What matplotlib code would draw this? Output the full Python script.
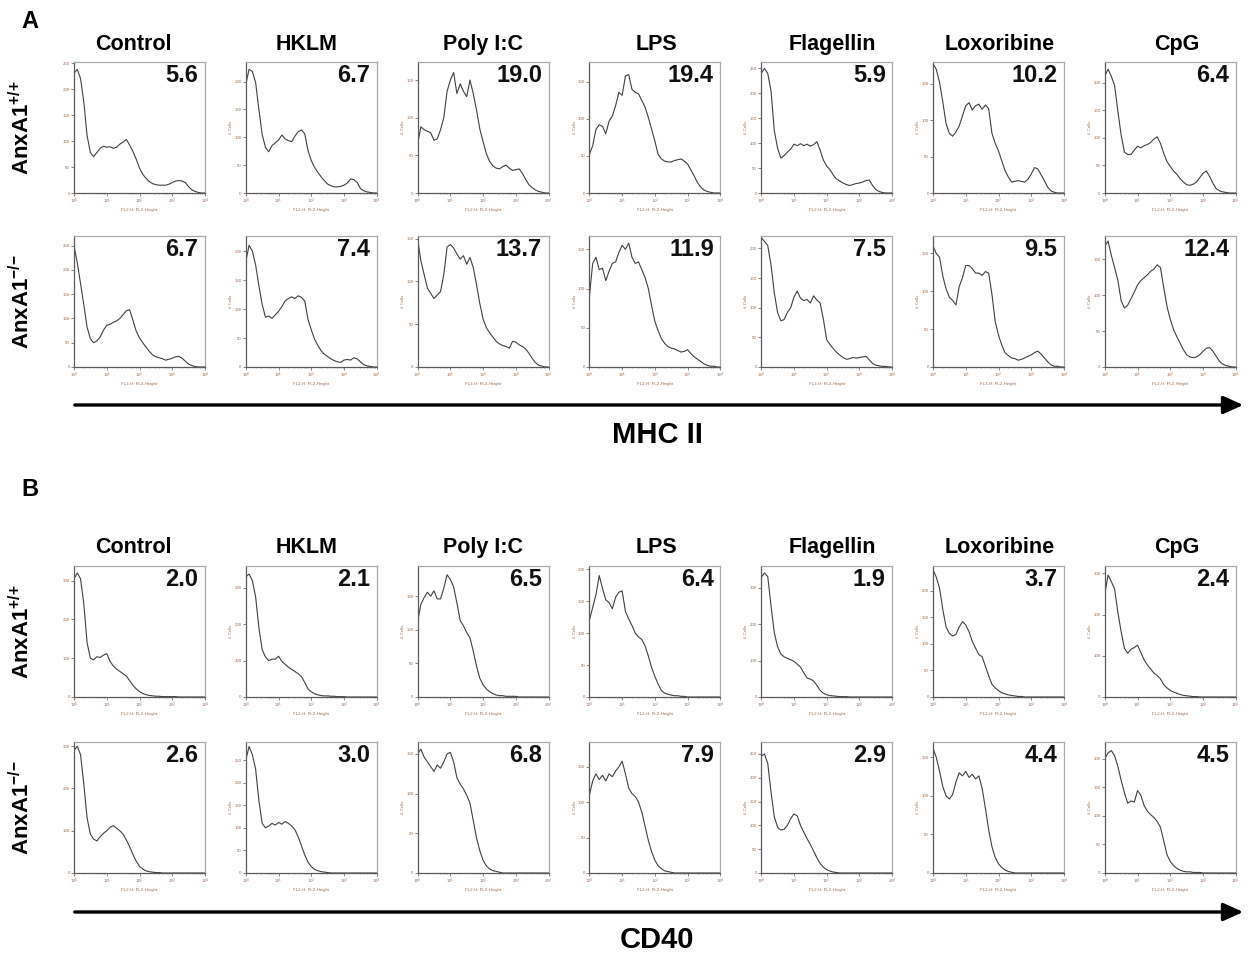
"""Flow cytometry histograms: MHC II and CD40 expression, AnxA1+/+ vs AnxA1-/-."""

import matplotlib

matplotlib.use("Agg")

import matplotlib.pyplot as plt  # noqa: E402
from matplotlib.patches import FancyArrowPatch  # noqa: E402
from matplotlib.ticker import LogLocator, NullFormatter, FixedLocator  # noqa: E402

plt.rcParams["font.family"] = ["Liberation Sans", "DejaVu Sans"]
plt.rcParams["mathtext.fontset"] = "custom"
plt.rcParams["mathtext.rm"] = "Liberation Sans"
plt.rcParams["mathtext.bf"] = "Liberation Sans:bold"

# ─── Data ────────────────────────────────────────────────────────────────────

STIMULI = ["Control", "HKLM", "Poly I:C", "LPS", "Flagellin", "Loxoribine", "CpG"]

# log10 fluorescence bin positions (FL2-H)
BINS_LOG10 = [0.0, 0.1, 0.2, 0.3, 0.4, 0.5, 0.6, 0.7, 0.8, 0.9,
              1.0, 1.1, 1.2, 1.3, 1.4, 1.5, 1.6, 1.7, 1.8, 1.9,
              2.0, 2.1, 2.2, 2.3, 2.4, 2.5, 2.6, 2.7, 2.8, 2.9,
              3.0, 3.1, 3.2, 3.3, 3.4, 3.5, 3.6, 3.7, 3.8, 3.9, 4.0]

# MHC II, AnxA1+/+
MHC_WT_CONTROL = [230, 238, 220, 175, 110, 78, 70, 78, 86, 90, 88, 89, 86, 88, 94, 98, 103, 92, 80, 65,
                  48, 36, 28, 22, 18, 16, 15, 15, 15, 17, 20, 23, 24, 23, 20, 12, 6, 3, 1, 0, 0]
MHC_WT_HKLM = [195, 222, 218, 198, 150, 105, 82, 74, 85, 90, 95, 104, 97, 94, 92, 102, 110, 113, 106, 76,
               58, 46, 37, 29, 22, 16, 13, 11, 11, 12, 14, 18, 25, 24, 19, 8, 4, 2, 1, 0, 0]
MHC_WT_POLYIC = [65, 88, 84, 82, 80, 70, 72, 84, 100, 135, 150, 160, 132, 145, 135, 128, 150, 132, 110, 85,
                 68, 52, 42, 36, 33, 32, 35, 37, 33, 30, 31, 32, 26, 18, 11, 7, 4, 2, 1, 0, 0]
MHC_WT_LPS = [52, 64, 86, 92, 90, 80, 97, 104, 118, 136, 132, 158, 160, 140, 136, 134, 125, 116, 102, 86,
              70, 52, 46, 43, 42, 42, 44, 45, 46, 43, 39, 31, 23, 14, 8, 4, 2, 1, 0, 0, 0]
MHC_WT_FLAG = [240, 250, 240, 205, 125, 90, 70, 75, 82, 88, 98, 95, 99, 95, 98, 94, 97, 103, 86, 66,
               54, 47, 36, 28, 24, 20, 17, 15, 17, 19, 20, 22, 25, 26, 15, 7, 3, 1, 0, 0, 0]
MHC_WT_LOXO = [178, 170, 152, 125, 95, 82, 78, 84, 92, 106, 120, 124, 114, 120, 122, 115, 121, 116, 82, 68,
               58, 44, 31, 22, 15, 16, 17, 16, 15, 19, 26, 35, 33, 25, 17, 8, 3, 1, 0, 0, 0]
MHC_WT_CPG = [212, 225, 212, 195, 148, 105, 74, 70, 70, 78, 85, 82, 86, 88, 92, 98, 102, 90, 72, 57,
              48, 40, 34, 26, 20, 15, 14, 16, 20, 28, 36, 40, 30, 18, 8, 4, 2, 1, 0, 0, 0]

# MHC II, AnxA1-/-
MHC_KO_CONTROL = [250, 215, 172, 128, 82, 58, 50, 54, 62, 76, 86, 88, 92, 95, 100, 108, 116, 118, 96, 74,
                  60, 50, 41, 32, 25, 21, 19, 17, 14, 16, 18, 21, 22, 18, 12, 6, 3, 1, 0, 0, 0]
MHC_KO_HKLM = [182, 210, 200, 176, 140, 108, 86, 88, 84, 90, 96, 104, 114, 118, 121, 118, 123, 120, 114, 82,
               64, 48, 37, 28, 22, 18, 14, 11, 9, 8, 12, 13, 12, 16, 14, 9, 4, 2, 1, 0, 0]
MHC_KO_POLYIC = [150, 124, 108, 92, 86, 80, 84, 88, 108, 140, 143, 139, 132, 126, 130, 120, 128, 116, 96, 74,
                 56, 46, 40, 35, 30, 27, 25, 24, 22, 30, 29, 26, 24, 21, 16, 10, 5, 2, 1, 0, 0]
MHC_KO_LPS = [90, 132, 140, 124, 126, 110, 122, 132, 134, 146, 155, 150, 158, 140, 132, 134, 124, 114, 100, 78,
              58, 46, 36, 30, 26, 24, 23, 21, 19, 20, 22, 17, 13, 10, 7, 4, 2, 1, 1, 0, 0]
MHC_KO_FLAG = [218, 212, 205, 172, 125, 92, 78, 80, 92, 100, 118, 128, 116, 112, 114, 108, 120, 113, 108, 80,
               46, 38, 31, 25, 20, 16, 13, 14, 16, 15, 16, 17, 18, 12, 6, 3, 2, 1, 1, 0, 0]
MHC_KO_LOXO = [160, 150, 145, 120, 103, 92, 88, 82, 106, 118, 134, 134, 130, 124, 124, 121, 126, 124, 96, 60,
               42, 29, 19, 15, 12, 11, 9, 10, 12, 14, 16, 19, 21, 17, 12, 7, 3, 1, 1, 0, 0]
MHC_KO_CPG = [168, 175, 155, 138, 120, 92, 82, 86, 95, 104, 114, 120, 124, 128, 133, 136, 142, 138, 110, 84,
              66, 52, 42, 33, 24, 17, 14, 13, 14, 17, 22, 26, 27, 22, 15, 8, 4, 2, 1, 0, 0]

# CD40, AnxA1+/+
CD40_WT_CONTROL = [305, 320, 305, 240, 140, 100, 96, 104, 102, 108, 112, 92, 80, 72, 66, 60, 54, 42, 30, 21,
                   14, 9, 6, 4, 3, 2, 2, 1, 1, 1, 1, 1, 0, 0, 0, 0, 0, 0, 0, 0, 0]
CD40_WT_HKLM = [330, 338, 320, 275, 190, 130, 110, 100, 104, 104, 112, 98, 90, 82, 76, 70, 64, 56, 40, 22,
                14, 9, 6, 4, 3, 3, 2, 2, 1, 1, 1, 0, 0, 0, 0, 0, 0, 0, 0, 0, 0]
CD40_WT_POLYIC = [112, 138, 148, 156, 150, 158, 146, 146, 162, 182, 175, 164, 140, 114, 106, 96, 88, 68, 46, 28,
                  18, 12, 8, 5, 3, 2, 2, 1, 1, 1, 1, 0, 0, 0, 0, 0, 0, 0, 0, 0, 0]
CD40_WT_LPS = [120, 140, 160, 190, 170, 152, 148, 138, 156, 164, 166, 134, 122, 112, 100, 94, 90, 80, 64, 46,
               32, 20, 10, 6, 4, 3, 2, 2, 1, 1, 0, 0, 0, 0, 0, 0, 0, 0, 0, 0, 0]
CD40_WT_FLAG = [328, 340, 330, 250, 176, 138, 118, 110, 106, 102, 98, 90, 82, 66, 52, 49, 44, 32, 18, 10,
                6, 4, 3, 2, 1, 1, 1, 0, 0, 0, 0, 0, 0, 0, 0, 0, 0, 0, 0, 0, 0]
CD40_WT_LOXO = [240, 226, 205, 165, 132, 120, 115, 118, 132, 142, 136, 123, 105, 92, 80, 76, 58, 40, 24, 17,
                12, 8, 6, 4, 3, 2, 1, 1, 0, 0, 0, 0, 0, 0, 0, 0, 0, 0, 0, 0, 0]
CD40_WT_CPG = [250, 296, 280, 262, 205, 158, 118, 106, 116, 120, 126, 108, 90, 78, 68, 58, 52, 44, 30, 22,
               16, 12, 9, 6, 4, 3, 2, 1, 1, 0, 0, 0, 0, 0, 0, 0, 0, 0, 0, 0, 0]

# CD40, AnxA1-/-
CD40_KO_CONTROL = [290, 300, 280, 210, 130, 92, 80, 76, 86, 94, 100, 108, 112, 106, 100, 92, 78, 62, 44, 28,
                   16, 9, 5, 3, 2, 1, 1, 0, 0, 0, 0, 0, 0, 0, 0, 0, 0, 0, 0, 0, 0]
CD40_KO_HKLM = [250, 280, 262, 230, 160, 110, 100, 104, 110, 106, 112, 108, 114, 110, 104, 96, 80, 60, 40, 24,
                14, 8, 5, 3, 2, 1, 0, 0, 0, 0, 0, 0, 0, 0, 0, 0, 0, 0, 0, 0, 0]
CD40_KO_POLYIC = [150, 156, 146, 140, 134, 128, 136, 132, 140, 150, 152, 140, 120, 112, 106, 98, 88, 66, 44, 28,
                  16, 9, 5, 3, 2, 1, 0, 0, 0, 0, 0, 0, 0, 0, 0, 0, 0, 0, 0, 0, 0]
CD40_KO_LPS = [110, 130, 140, 132, 138, 130, 140, 136, 144, 150, 158, 140, 120, 112, 108, 100, 86, 66, 46, 30,
               18, 10, 6, 3, 2, 1, 0, 0, 0, 0, 0, 0, 0, 0, 0, 0, 0, 0, 0, 0, 0]
CD40_KO_FLAG = [245, 250, 230, 170, 118, 96, 90, 92, 100, 114, 124, 120, 100, 86, 72, 60, 46, 32, 20, 12,
                7, 4, 2, 1, 0, 0, 0, 0, 0, 0, 0, 0, 0, 0, 0, 0, 0, 0, 0, 0, 0]
CD40_KO_LOXO = [162, 150, 132, 112, 100, 96, 102, 118, 130, 126, 132, 124, 128, 122, 126, 110, 84, 56, 34, 20,
                12, 7, 4, 2, 1, 0, 0, 0, 0, 0, 0, 0, 0, 0, 0, 0, 0, 0, 0, 0, 0]
CD40_KO_CPG = [200, 210, 214, 205, 186, 162, 140, 122, 126, 124, 144, 136, 118, 108, 102, 97, 90, 80, 56, 32,
               20, 13, 8, 5, 3, 2, 2, 1, 1, 1, 0, 0, 0, 0, 0, 0, 0, 0, 0, 0, 0]

MHC_WT_PCT = ["5.6", "6.7", "19.0", "19.4", "5.9", "10.2", "6.4"]
MHC_KO_PCT = ["6.7", "7.4", "13.7", "11.9", "7.5", "9.5", "12.4"]
CD40_WT_PCT = ["2.0", "2.1", "6.5", "6.4", "1.9", "3.7", "2.4"]
CD40_KO_PCT = ["2.6", "3.0", "6.8", "7.9", "2.9", "4.4", "4.5"]

# y-axis range and tick spacing of each panel
MHC_WT_YMAX = [252, 235, 174, 177, 263, 180, 238]
MHC_KO_YMAX = [270, 226, 153, 167, 221, 173, 182]
CD40_WT_YMAX = [338, 360, 195, 205, 359, 247, 318]
CD40_KO_YMAX = [310, 290, 165, 185, 275, 170, 229]
MHC_WT_YSTEP = [50, 50, 50, 50, 50, 50, 50]
MHC_KO_YSTEP = [50, 50, 50, 50, 50, 50, 50]
CD40_WT_YSTEP = [100, 100, 50, 50, 100, 50, 100]
CD40_KO_YSTEP = [100, 50, 50, 50, 50, 50, 50]

ROWS = [
    ([MHC_WT_CONTROL, MHC_WT_HKLM, MHC_WT_POLYIC, MHC_WT_LPS, MHC_WT_FLAG, MHC_WT_LOXO, MHC_WT_CPG],
     MHC_WT_PCT, MHC_WT_YMAX, MHC_WT_YSTEP),
    ([MHC_KO_CONTROL, MHC_KO_HKLM, MHC_KO_POLYIC, MHC_KO_LPS, MHC_KO_FLAG, MHC_KO_LOXO, MHC_KO_CPG],
     MHC_KO_PCT, MHC_KO_YMAX, MHC_KO_YSTEP),
    ([CD40_WT_CONTROL, CD40_WT_HKLM, CD40_WT_POLYIC, CD40_WT_LPS, CD40_WT_FLAG, CD40_WT_LOXO, CD40_WT_CPG],
     CD40_WT_PCT, CD40_WT_YMAX, CD40_WT_YSTEP),
    ([CD40_KO_CONTROL, CD40_KO_HKLM, CD40_KO_POLYIC, CD40_KO_LPS, CD40_KO_FLAG, CD40_KO_LOXO, CD40_KO_CPG],
     CD40_KO_PCT, CD40_KO_YMAX, CD40_KO_YSTEP),
]

# ─── Layout (pixels of a 1251 x 956 canvas) ──────────────────────────────────

W, H = 1251, 956
BOX_LEFT0 = 74
BOX_STEP = 171.8
BOX_W = 131
ROW_TOPS = [62, 236, 566, 742]
BOX_H = 131
TITLE_X = [133, 307, 483, 656, 832, 1000, 1177]
TITLE_BASELINES = [50, 553]
TICK_COLOR = "#a07050"


def fx(px):
    return px / W


def fy(py):
    return 1 - py / H


fig = plt.figure(figsize=(W / 100, H / 100), dpi=100)

x_vals = [10 ** b for b in BINS_LOG10]

for r, (curves, pcts, ymaxes, ysteps) in enumerate(ROWS):
    top = ROW_TOPS[r]
    for c in range(7):
        left = BOX_LEFT0 + BOX_STEP * c
        ax = fig.add_axes([fx(left), fy(top + BOX_H), BOX_W / W, BOX_H / H])
        ax.plot(x_vals, curves[c], color="#404040", linewidth=0.8)
        ax.set_xscale("log")
        ax.set_xlim(1, 1e4)
        ax.set_ylim(0, ymaxes[c])
        step = ysteps[c]
        ax.yaxis.set_major_locator(FixedLocator(list(range(0, int(ymaxes[c]) + 1, step))))
        ax.xaxis.set_major_locator(FixedLocator([1, 10, 100, 1000, 10000]))
        ax.set_xticklabels([r"$10^0$", r"$10^1$", r"$10^2$", r"$10^3$", r"$10^4$"])
        ax.xaxis.set_minor_locator(LogLocator(base=10, subs=range(2, 10)))
        ax.xaxis.set_minor_formatter(NullFormatter())
        ax.tick_params(axis="both", which="major", length=2, width=0.5, pad=1,
                       labelsize=3.2, colors="#555555", labelcolor=TICK_COLOR)
        ax.tick_params(axis="x", which="minor", length=1, width=0.4, colors="#777777")
        ax.set_xlabel("FL2-H: FL2-Height", fontsize=3.2, color=TICK_COLOR, labelpad=1)
        if c > 0:
            ax.set_ylabel("# Cells", fontsize=3.2, color=TICK_COLOR, labelpad=1)
        for side in ("top", "right"):
            ax.spines[side].set_color("#a8a8a8")
            ax.spines[side].set_linewidth(0.9)
        for side in ("left", "bottom"):
            ax.spines[side].set_color("#5a5a5a")
            ax.spines[side].set_linewidth(0.9)
        ax.text(0.95, 0.9, pcts[c], transform=ax.transAxes, ha="right", va="center",
                fontsize=17, fontweight="bold", color="#111111")

# column titles
for title_y in TITLE_BASELINES:
    for c, name in enumerate(STIMULI):
        fig.text(fx(TITLE_X[c]), fy(title_y), name, ha="center", va="baseline",
                 fontsize=15.5, fontweight="bold")

# genotype row labels
GENOTYPES = [r"AnxA1$^{\mathbf{{+}/{+}}}$", r"AnxA1$^{\mathbf{{-}/{-}}}$"]
for r, label in enumerate(GENOTYPES * 2):
    cy = ROW_TOPS[r] + BOX_H / 2
    fig.text(fx(22), fy(cy), label, rotation=90, ha="center", va="center",
             fontsize=16, fontweight="bold")

# panel letters
fig.text(fx(30), fy(22), "A", ha="center", va="center", fontsize=17, fontweight="bold")
fig.text(fx(30), fy(490), "B", ha="center", va="center", fontsize=17, fontweight="bold")

# marker axes arrows
for arrow_y, label_y, label in ((405, 435, "MHC II"), (912, 940, "CD40")):
    arrow = FancyArrowPatch((fx(72), fy(arrow_y)), (fx(1246), fy(arrow_y)),
                            transform=fig.transFigure,
                            arrowstyle="-|>,head_length=1.0,head_width=0.45",
                            mutation_scale=12, linewidth=2.4, color="black")
    fig.add_artist(arrow)
    fig.text(fx(657), fy(label_y), label, ha="center", va="center",
             fontsize=21, fontweight="bold")

fig.savefig("out.png", dpi=100)
plt.close(fig)
